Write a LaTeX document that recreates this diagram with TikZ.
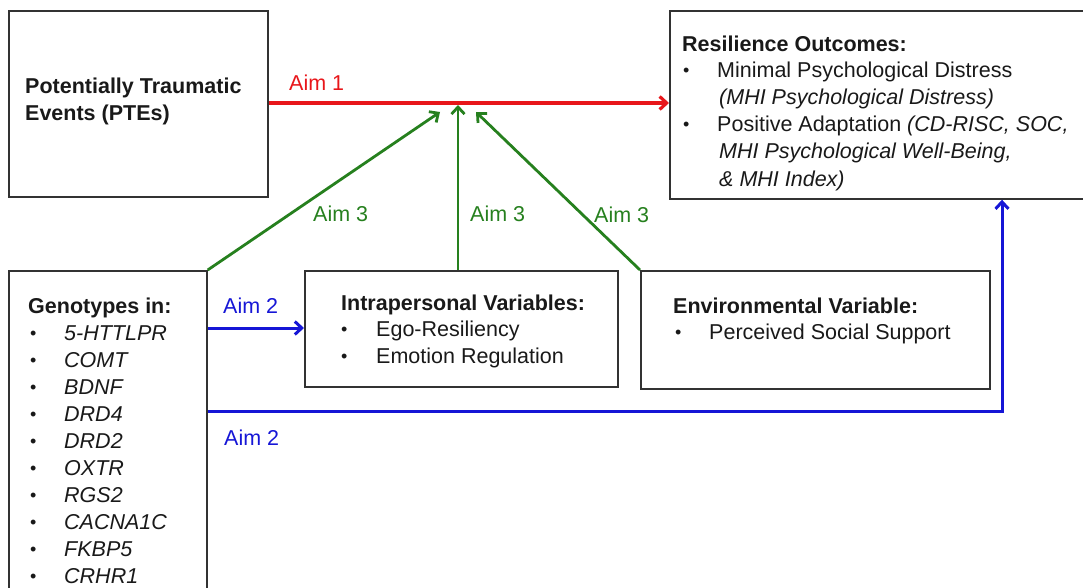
\documentclass[tikz,border=0pt]{standalone}
\usepackage{fontspec}
\setmainfont{Liberation Sans}
\usetikzlibrary{arrows.meta}
\definecolor{aimred}{RGB}{232,22,26}
\definecolor{aimgreen}{RGB}{38,128,30}
\definecolor{aimblue}{RGB}{22,22,214}
\definecolor{boxline}{RGB}{50,50,50}
\definecolor{textcol}{RGB}{25,25,25}
\tikzset{
  box/.style={draw=boxline, line width=1.7pt, rectangle, inner sep=0pt, anchor=north west},
  txt/.style={inner sep=0pt, anchor=base west, text=textcol, font=\fontsize{21.5}{27}\selectfont},
  bul/.style={inner sep=0pt, anchor=base west, text=textcol, font=\fontsize{18}{27}\selectfont},
  lbl/.style={txt},
  redarrow/.style={draw=aimred, line width=3.2pt, -{Straight Barb[length=7pt,width=13pt]}},
  greenarrow/.style={draw=aimgreen, line width=2.8pt, -{Straight Barb[length=7pt,width=13pt]}},
  bluearrow/.style={draw=aimblue, line width=3pt, -{Straight Barb[length=7pt,width=13pt]}},
}
\begin{document}
\begin{tikzpicture}[x=1pt,y=-1pt]
\useasboundingbox (0,0) rectangle (1083,588);
% boxes
\node[box, minimum width=259pt, minimum height=186pt] (pte) at (8,10) {};
\node[box, minimum width=422pt, minimum height=188pt] (res) at (669,10) {};
\node[box, minimum width=198pt, minimum height=330pt] (geno) at (8,270) {};
\node[box, minimum width=313pt, minimum height=116pt] (intra) at (304,270) {};
\node[box, minimum width=349pt, minimum height=118pt] (env) at (640,270) {};
% PTE text
\node[txt] (pte1) at (25,94) {\bfseries Potentially Traumatic};
\node[txt] (pte2) at (25,121) {\bfseries Events (PTEs)};
% Resilience text
\node[txt] (res0) at (682,52) {\bfseries Resilience Outcomes:};
\node[bul] (resb1) at (683,77) {•};
\node[txt] (res1) at (717,78) {Minimal Psychological Distress};
\node[txt] (res2) at (719,105) {\itshape (MHI Psychological Distress)};
\node[bul] (resb2) at (683,131) {•};
\node[txt] (res3) at (717,132) {Positive Adaptation \itshape(CD-RISC, SOC,};
\node[txt] (res4) at (719,159) {\itshape MHI Psychological Well-Being,};
\node[txt] (res5) at (719,186) {\itshape \& MHI Index)};
% Genotypes
\node[txt] (geno0) at (28,313) {\bfseries Genotypes in:};
\foreach \g [count=\i] in {5-HTTLPR,COMT,BDNF,DRD4,DRD2,OXTR,RGS2,CACNA1C,FKBP5,CRHR1}{
  \node[bul] (genob\i) at (30,{312+27*\i}) {•};
  \node[txt] (genot\i) at (64,{313+27*\i}) {\itshape \g};
}
% Intrapersonal
\node[txt] (intra0) at (341,310) {\bfseries Intrapersonal Variables:};
\node[bul] (intrab1) at (341,335) {•};
\node[txt] (intra1) at (376,336) {Ego-Resiliency};
\node[bul] (intrab2) at (341,362) {•};
\node[txt] (intra2) at (376,363) {Emotion Regulation};
% Environmental
\node[txt] (env0) at (673,313) {\bfseries Environmental Variable:};
\node[bul] (envb1) at (675,338) {•};
\node[txt] (env1) at (709,339) {Perceived Social Support};
% coordinates
\coordinate (ry) at (0,103);
\coordinate (t1) at (440,112);
\coordinate (t2) at (458,105);
\coordinate (t3) at (476,112);
\coordinate (b1y) at (0,328);
\coordinate (b2y) at (0,411);
\coordinate (b2x) at (1002,0);
% arrows
\draw[redarrow] (pte.east |- ry) -- (res.west |- ry);
\draw[greenarrow] (geno.north east) -- (t1);
\draw[greenarrow] (intra.north -| t2) -- (t2);
\draw[greenarrow] (env.north west) -- (t3);
\draw[bluearrow] (geno.east |- b1y) -- (intra.west |- b1y);
\draw[bluearrow] (geno.east |- b2y) -| (res.south -| b2x);
% labels
\node[lbl, text=aimred] (aim1) at (289,91) {Aim 1};
\node[lbl, text=aimgreen] (aim3a) at (313,221) {Aim 3};
\node[lbl, text=aimgreen] (aim3b) at (470,221) {Aim 3};
\node[lbl, text=aimgreen] (aim3c) at (594,222) {Aim 3};
\node[lbl, text=aimblue] (aim2a) at (223,313) {Aim 2};
\node[lbl, text=aimblue] (aim2b) at (224,445) {Aim 2};
\end{tikzpicture}
\end{document}
